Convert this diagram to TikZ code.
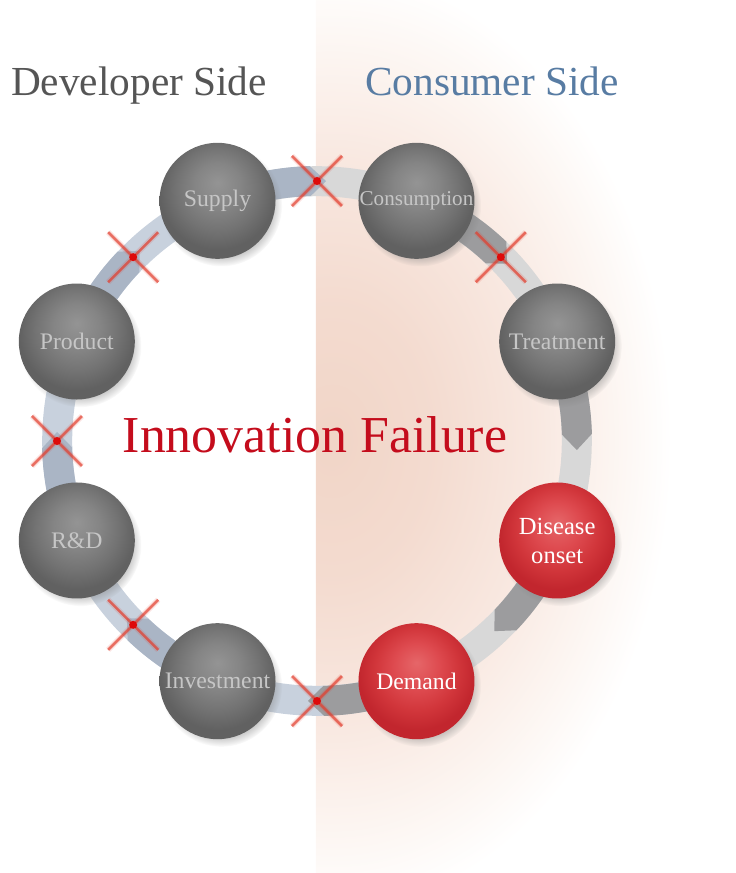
\documentclass[tikz,border=0pt]{standalone}
\usepackage{fontspec}
\setmainfont{Liberation Serif}
\usetikzlibrary{backgrounds,fadings,shadows,shapes.misc}

\definecolor{bandblue}{RGB}{200,209,221}
\definecolor{bandgrey}{RGB}{216,216,216}
\definecolor{arrowblue}{RGB}{170,181,197}
\definecolor{arrowgrey}{RGB}{156,156,158}
\definecolor{crossred}{RGB}{226,60,44}
\definecolor{crossdot}{RGB}{222,10,10}
\definecolor{balltext}{RGB}{198,198,198}
\definecolor{sidegrey}{RGB}{85,85,85}
\definecolor{sideblue}{RGB}{88,124,163}
\definecolor{failred}{RGB}{196,12,28}

% shadings: the path edge sits at 25bp
\pgfdeclareradialshading{greyball}{\pgfpoint{0bp}{8bp}}{rgb(0bp)=(0.58,0.58,0.58); rgb(10bp)=(0.52,0.52,0.52); rgb(18bp)=(0.45,0.45,0.45); rgb(25bp)=(0.38,0.38,0.38); rgb(50bp)=(0.38,0.38,0.38)}
\pgfdeclareradialshading{redball}{\pgfpoint{0bp}{8bp}}{rgb(0bp)=(0.90,0.40,0.41); rgb(10bp)=(0.87,0.29,0.31); rgb(18bp)=(0.82,0.21,0.23); rgb(25bp)=(0.76,0.15,0.18); rgb(50bp)=(0.76,0.15,0.18)}
% warm tint, strongest next to the middle line
\pgfdeclareradialshading{tint}{\pgfpointorigin}{rgb(0bp)=(0.945,0.835,0.78); rgb(7.5bp)=(0.955,0.86,0.815); rgb(15bp)=(0.975,0.91,0.88); rgb(21bp)=(0.99,0.965,0.95); rgb(25bp)=(1,1,1); rgb(50bp)=(1,1,1)}

\begin{document}
\begin{tikzpicture}[
    stage/.style={circle, minimum size=2.32cm, inner sep=0pt, align=center,
      font=\fontsize{13.5}{16}\selectfont,
      circular drop shadow={shadow xshift=0.07cm, shadow yshift=-0.09cm, shadow scale=1.05, opacity=0.4}},
    devstage/.style={stage, shading=greyball, text=balltext},
    sickstage/.style={stage, shading=redball, text=white},
    ring/.style={line width=0.6cm},
    nogo/.style={cross out, draw=crossred, draw opacity=0.7, line width=0.05cm, minimum size=0.95cm, inner sep=0pt,
      preaction={draw=crossred, draw opacity=0.15, line width=0.11cm}}
  ]
    \useasboundingbox (-6.34,-8.64) rectangle (8.38,8.82);
    \coordinate (hub) at (0,0);

    % the eight stages, clockwise from top left
    \node[devstage] (supply) at (112.5:5.2) {Supply};
    \node[devstage, font=\fontsize{12}{14}\selectfont] (consumption) at (67.5:5.2) {Consumption};
    \node[devstage] (treatment) at (22.5:5.2) {Treatment};
    \node[sickstage, font=\fontsize{14}{16.5}\selectfont] (onset) at (-22.5:5.2) {Disease\\onset};
    \node[sickstage] (demand) at (-67.5:5.2) {Demand};
    \node[devstage] (investment) at (-112.5:5.2) {Investment};
    \node[devstage] (rnd) at (-157.5:5.2) {R\&D};
    \node[devstage] (product) at (157.5:5.2) {Product};

    \node[anchor=base, text=sidegrey, font=\fontsize{23.5}{28}\selectfont] (devside) at (-3.56,6.9) {Developer Side};
    \node[anchor=base, text=sideblue, font=\fontsize{23.5}{28}\selectfont] (conside) at (3.5,6.9) {Consumer Side};
    \node[anchor=base, text=failred, font=\fontsize{29.5}{34}\selectfont] (failure) at (-0.04,-0.22) {Innovation Failure};

    \begin{scope}[on background layer]
      % tint behind the consumer half
      \begin{scope}
        \clip (-0.02,-8.64) rectangle (8.38,8.82);
        \shade[shading=tint] (0.3,0) ellipse (6.8 and 9.4);
      \end{scope}

      % light ring
      \draw[ring, bandgrey] (supply.center) to[bend left=22.5, looseness=0.88] (consumption.center);
      \draw[ring, bandgrey] (consumption.center) to[bend left=22.5, looseness=0.88] (treatment.center);
      \draw[ring, bandgrey] (treatment.center) to[bend left=22.5, looseness=0.88] (onset.center);
      \draw[ring, bandgrey] (onset.center) to[bend left=22.5, looseness=0.88] (demand.center);
      \draw[ring, bandblue] (demand.center) to[bend left=22.5, looseness=0.88] (investment.center);
      \draw[ring, bandblue] (investment.center) to[bend left=22.5, looseness=0.88] (rnd.center);
      \draw[ring, bandblue] (rnd.center) to[bend left=22.5, looseness=0.88] (product.center);
      \draw[ring, bandblue] (product.center) to[bend left=22.5, looseness=0.88] (supply.center);

      % darker pointed pieces leaving each stage
      \fill[arrowblue] (112.5:5.5) arc[start angle=112.5, end angle=91.5, radius=5.5] -- (88:5.2) -- (91.5:4.9) arc[start angle=91.5, end angle=112.5, radius=4.9] -- cycle;
      \fill[arrowgrey] (67.5:5.5) arc[start angle=67.5, end angle=46.5, radius=5.5] -- (43:5.2) -- (46.5:4.9) arc[start angle=46.5, end angle=67.5, radius=4.9] -- cycle;
      \fill[arrowgrey] (22.5:5.5) arc[start angle=22.5, end angle=1.5, radius=5.5] -- (-2:5.2) -- (1.5:4.9) arc[start angle=1.5, end angle=22.5, radius=4.9] -- cycle;
      \fill[arrowgrey] (-22.5:5.5) arc[start angle=-22.5, end angle=-43.5, radius=5.5] -- (-47:5.2) -- (-43.5:4.9) arc[start angle=-43.5, end angle=-22.5, radius=4.9] -- cycle;
      \fill[arrowgrey] (-67.5:5.5) arc[start angle=-67.5, end angle=-88.5, radius=5.5] -- (-92:5.2) -- (-88.5:4.9) arc[start angle=-88.5, end angle=-67.5, radius=4.9] -- cycle;
      \fill[arrowblue] (-112.5:5.5) arc[start angle=-112.5, end angle=-133.5, radius=5.5] -- (-137:5.2) -- (-133.5:4.9) arc[start angle=-133.5, end angle=-112.5, radius=4.9] -- cycle;
      \fill[arrowblue] (-157.5:5.5) arc[start angle=-157.5, end angle=-178.5, radius=5.5] -- (-182:5.2) -- (-178.5:4.9) arc[start angle=-178.5, end angle=-157.5, radius=4.9] -- cycle;
      \fill[arrowblue] (157.5:5.5) arc[start angle=157.5, end angle=136.5, radius=5.5] -- (133:5.2) -- (136.5:4.9) arc[start angle=136.5, end angle=157.5, radius=4.9] -- cycle;

      % broken links
      \node[nogo] (cut1) at (90:5.2) {};
      \node[nogo] (cut2) at (45:5.2) {};
      \node[nogo] (cut3) at (-90:5.2) {};
      \node[nogo] (cut4) at (-135:5.2) {};
      \node[nogo] (cut5) at (180:5.2) {};
      \node[nogo] (cut6) at (135:5.2) {};
      \fill[crossdot] (cut1) circle (0.08);
      \fill[crossdot] (cut2) circle (0.08);
      \fill[crossdot] (cut3) circle (0.08);
      \fill[crossdot] (cut4) circle (0.08);
      \fill[crossdot] (cut5) circle (0.08);
      \fill[crossdot] (cut6) circle (0.08);
    \end{scope}
\end{tikzpicture}
\end{document}
